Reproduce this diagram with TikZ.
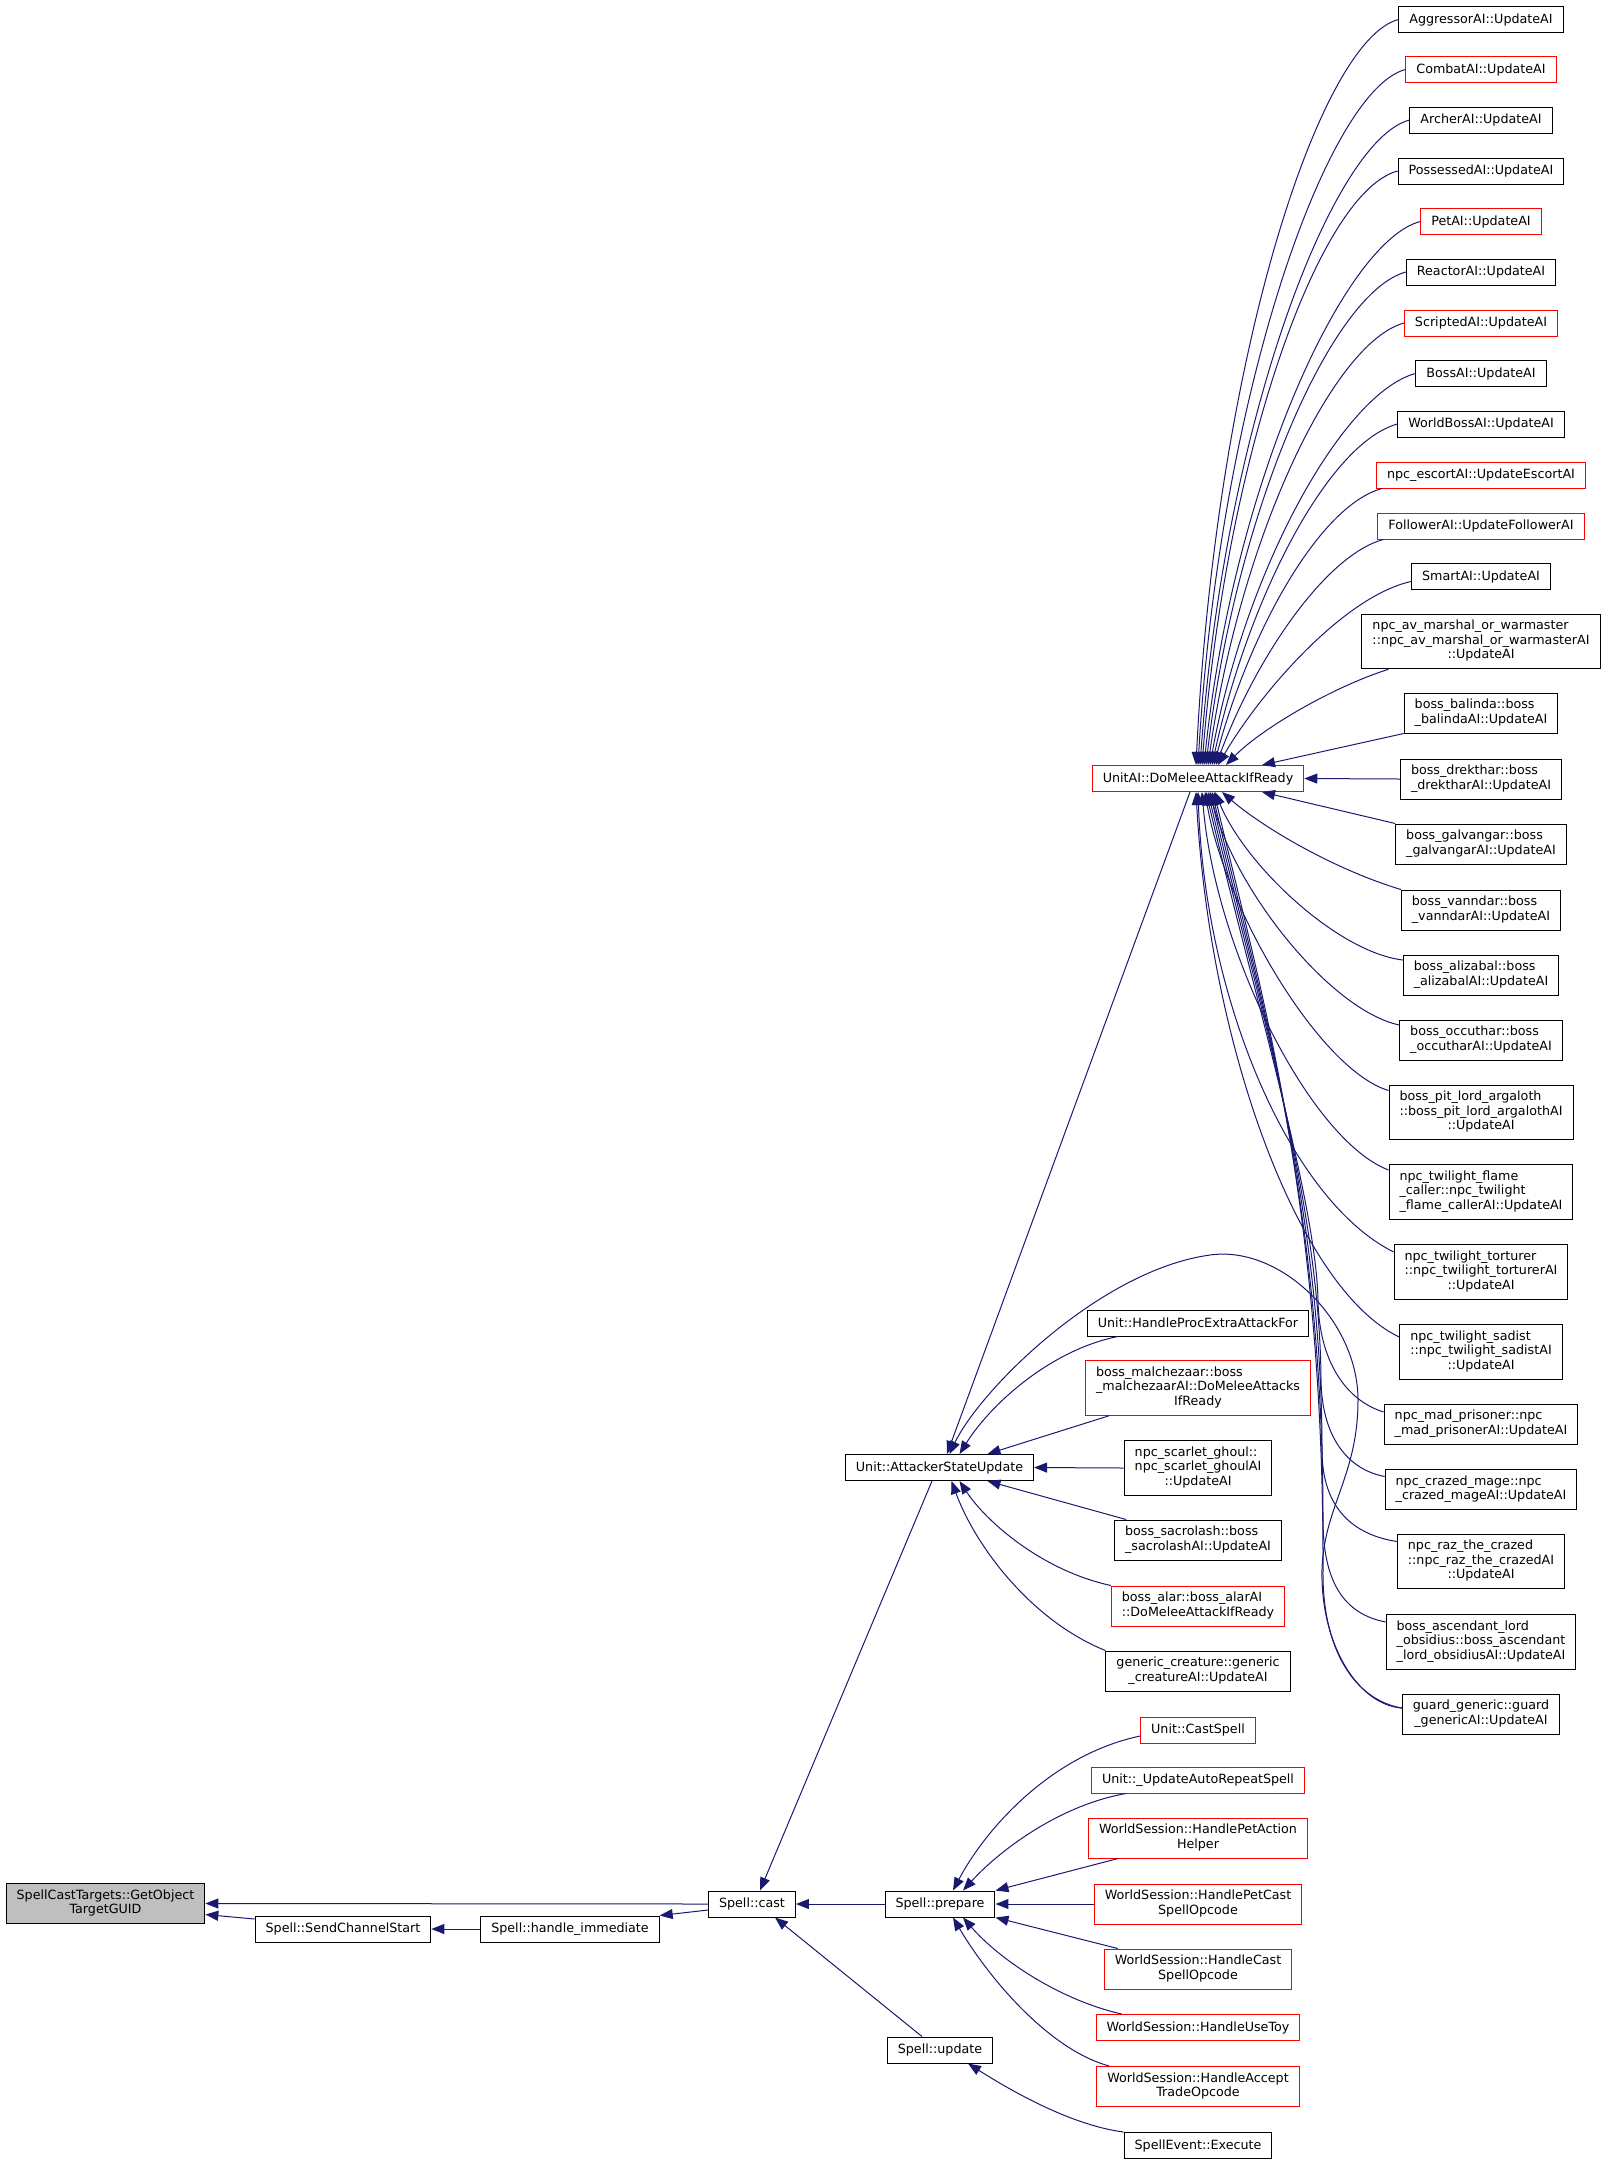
\documentclass[tikz,border=0pt]{standalone}
\usepackage{fontspec}
\setmainfont{DejaVu Sans}
\usepackage{xcolor}
\usepackage{tikz}
\usetikzlibrary{arrows.meta}

\definecolor{edgeblue}{HTML}{191970}
\definecolor{rootgray}{HTML}{BFBFBF}

\newcommand{\twolbl}[2]{\begin{tabular}{@{}l@{}}#1\\\multicolumn{1}{@{}c@{}}{#2}\end{tabular}}
\newcommand{\threelbl}[3]{\begin{tabular}{@{}l@{}}#1\\#2\\\multicolumn{1}{@{}c@{}}{#3}\end{tabular}}

\begin{document}
\begin{tikzpicture}[
  x=1pt, y=-1pt,
  box/.style={draw=black, line width=1pt, fill=white, inner xsep=10.5pt, inner ysep=5.5pt, minimum height=26pt, font=\fontsize{12.7}{14.5}\selectfont},
  redbox/.style={box, draw=red},
  rootbox/.style={box, fill=rootgray},
  callarrow/.style={draw=edgeblue, line width=1pt, {Triangle[length=13pt,width=10pt]}-}
]
\useasboundingbox (0,0) rectangle (1607,2164);

\node[rootbox] (gettarget) at (105.5,1903.5) {\twolbl{SpellCastTargets::GetObject}{TargetGUID}};
\node[box] (sendchannel) at (343,1929) {Spell::SendChannelStart};
\node[box] (handleimm) at (570,1929) {Spell::handle\_immediate};
\node[box] (spellcast) at (752,1904) {Spell::cast};
\node[box] (prepare) at (940,1904) {Spell::prepare};
\node[box] (spellupdate) at (940,2050) {Spell::update};
\node[box] (attacker) at (939.5,1467.5) {Unit::AttackerStateUpdate};

\node[redbox] (melee) at (1198,778.5) {UnitAI::DoMeleeAttackIfReady};
\node[box] (extraattack) at (1198,1323) {Unit::HandleProcExtraAttackFor};
\node[redbox] (malchezaar) at (1198,1388) {\threelbl{boss\_malchezaar::boss}{\_malchezaarAI::DoMeleeAttacks}{IfReady}};
\node[box] (ghoul) at (1198,1468) {\threelbl{npc\_scarlet\_ghoul::}{npc\_scarlet\_ghoulAI}{::UpdateAI}};
\node[box] (sacrolash) at (1198,1540) {\twolbl{boss\_sacrolash::boss}{\_sacrolashAI::UpdateAI}};
\node[redbox] (alar) at (1198,1606) {\twolbl{boss\_alar::boss\_alarAI}{::DoMeleeAttackIfReady}};
\node[box] (genericcr) at (1198,1671) {\twolbl{generic\_creature::generic}{\_creatureAI::UpdateAI}};
\node[redbox] (castspell) at (1198,1730) {Unit::CastSpell};
\node[redbox] (autorepeat) at (1198,1780) {Unit::\_UpdateAutoRepeatSpell};
\node[redbox] (petaction) at (1198,1838) {\twolbl{WorldSession::HandlePetAction}{Helper}};
\node[redbox] (petcast) at (1198,1904) {\twolbl{WorldSession::HandlePetCast}{SpellOpcode}};
\node[redbox] (castopcode) at (1198,1969) {\twolbl{WorldSession::HandleCast}{SpellOpcode}};
\node[redbox] (usetoy) at (1198,2027.5) {WorldSession::HandleUseToy};
\node[redbox] (accepttrade) at (1198,2086.5) {\twolbl{WorldSession::HandleAccept}{TradeOpcode}};
\node[box] (spellevent) at (1198,2145.5) {SpellEvent::Execute};

\node[box] (aggressor) at (1481,19.5) {AggressorAI::UpdateAI};
\node[redbox] (combat) at (1481,69.5) {CombatAI::UpdateAI};
\node[box] (archer) at (1481,120) {ArcherAI::UpdateAI};
\node[box] (possessed) at (1481,171) {PossessedAI::UpdateAI};
\node[redbox] (petai) at (1481,221.5) {PetAI::UpdateAI};
\node[box] (reactor) at (1481,272) {ReactorAI::UpdateAI};
\node[redbox] (scripted) at (1481,323) {ScriptedAI::UpdateAI};
\node[box] (bossai) at (1481,373.5) {BossAI::UpdateAI};
\node[box] (worldboss) at (1481,424) {WorldBossAI::UpdateAI};
\node[redbox] (escort) at (1481,475) {npc\_escortAI::UpdateEscortAI};
\node[redbox] (follower) at (1481,526) {FollowerAI::UpdateFollowerAI};
\node[box] (smart) at (1481,576.5) {SmartAI::UpdateAI};
\node[box] (avmarshal) at (1481,641.5) {\threelbl{npc\_av\_marshal\_or\_warmaster}{::npc\_av\_marshal\_or\_warmasterAI}{::UpdateAI}};
\node[box] (balinda) at (1481,713) {\twolbl{boss\_balinda::boss}{\_balindaAI::UpdateAI}};
\node[box] (drekthar) at (1481,779) {\twolbl{boss\_drekthar::boss}{\_drektharAI::UpdateAI}};
\node[box] (galvangar) at (1481,844) {\twolbl{boss\_galvangar::boss}{\_galvangarAI::UpdateAI}};
\node[box] (vanndar) at (1481,910) {\twolbl{boss\_vanndar::boss}{\_vanndarAI::UpdateAI}};
\node[box] (alizabal) at (1481,975) {\twolbl{boss\_alizabal::boss}{\_alizabalAI::UpdateAI}};
\node[box] (occuthar) at (1481,1040) {\twolbl{boss\_occuthar::boss}{\_occutharAI::UpdateAI}};
\node[box] (pitlord) at (1481,1112.5) {\threelbl{boss\_pit\_lord\_argaloth}{::boss\_pit\_lord\_argalothAI}{::UpdateAI}};
\node[box] (flamecaller) at (1481,1192) {\threelbl{npc\_twilight\_flame}{\_caller::npc\_twilight}{\_flame\_callerAI::UpdateAI}};
\node[box] (torturer) at (1481,1272) {\threelbl{npc\_twilight\_torturer}{::npc\_twilight\_torturerAI}{::UpdateAI}};
\node[box] (sadist) at (1481,1352) {\threelbl{npc\_twilight\_sadist}{::npc\_twilight\_sadistAI}{::UpdateAI}};
\node[box] (madprisoner) at (1481,1424) {\twolbl{npc\_mad\_prisoner::npc}{\_mad\_prisonerAI::UpdateAI}};
\node[box] (crazedmage) at (1481,1489.5) {\twolbl{npc\_crazed\_mage::npc}{\_crazed\_mageAI::UpdateAI}};
\node[box] (razcrazed) at (1481,1561.5) {\threelbl{npc\_raz\_the\_crazed}{::npc\_raz\_the\_crazedAI}{::UpdateAI}};
\node[box] (obsidius) at (1481,1642) {\threelbl{boss\_ascendant\_lord}{\_obsidius::boss\_ascendant}{\_lord\_obsidiusAI::UpdateAI}};
\node[box] (guard) at (1481,1714) {\twolbl{guard\_generic::guard}{\_genericAI::UpdateAI}};

\draw[callarrow] (gettarget.east) -- (spellcast.west);
\draw[callarrow] ([yshift=-11pt]gettarget.east) -- ([yshift=10pt]sendchannel.west);
\draw[callarrow] (sendchannel.east) -- (handleimm.west);
\draw[callarrow] (handleimm.north east) -- ([yshift=-6pt]spellcast.west);
\draw[callarrow] (spellcast.east) -- (prepare.west);
\draw[callarrow] ([xshift=23pt]spellcast.south) -- ([xshift=-18pt]spellupdate.north);
\draw[callarrow] ([xshift=8pt]spellcast.north) -- ([xshift=-7.5pt]attacker.south);
\draw[callarrow] ([xshift=28pt]spellupdate.south) .. controls (1010,2090) and (1070,2125) .. (spellevent.north west);
\draw[callarrow] ([xshift=7.5pt]attacker.north) -- ([xshift=-8pt]melee.south);

\draw[callarrow] ([xshift=13pt]prepare.north) .. controls (985,1830) and (1050,1755) .. ([yshift=-6pt]castspell.west);
\draw[callarrow] ([xshift=23pt]prepare.north) .. controls (1000,1850) and (1060,1805) .. ([xshift=35pt]autorepeat.south west);
\draw[callarrow] (prepare.north east) -- ([xshift=30pt]petaction.south west);
\draw[callarrow] (prepare.east) -- (petcast.west);
\draw[callarrow] (prepare.south east) -- ([xshift=14pt]castopcode.north west);
\draw[callarrow] ([xshift=23pt]prepare.south) .. controls (1000,1960) and (1060,2000) .. ([xshift=26pt]usetoy.north west);
\draw[callarrow] ([xshift=13pt]prepare.south) .. controls (990,1980) and (1050,2050) .. ([xshift=13pt]accepttrade.north west);

\draw[callarrow] ([xshift=20pt]attacker.north) .. controls (990,1405) and (1050,1350) .. ([xshift=31pt]extraattack.south west);
\draw[callarrow] ([xshift=10pt]attacker.north) .. controls (980,1390) and (1100,1270) .. (1210,1255) .. controls (1280,1245) and (1358,1320) .. (1358,1400) .. controls (1358,1480) and (1320,1510) .. (1322,1580) .. controls (1324,1650) and (1360,1705) .. ([yshift=6pt]guard.west);
\draw[callarrow] ([xshift=48pt]attacker.north) -- ([xshift=24pt]malchezaar.south west);
\draw[callarrow] (attacker.east) -- (ghoul.west);
\draw[callarrow] ([xshift=48pt]attacker.south) -- ([xshift=12pt]sacrolash.north west);
\draw[callarrow] ([xshift=20pt]attacker.south) .. controls (985,1520) and (1040,1570) .. (alar.north west);
\draw[callarrow] ([xshift=12pt]attacker.south) .. controls (975,1545) and (1030,1620) .. (genericcr.north west);

\draw[callarrow] ([xshift=-2pt]melee.north) .. controls (1216,355) and (1320,40) .. (aggressor.west);
\draw[callarrow] (melee.north) .. controls (1220,390) and (1328,90) .. (combat.west);
\draw[callarrow] ([xshift=2pt]melee.north) .. controls (1225,420) and (1333,140) .. (archer.west);
\draw[callarrow] ([xshift=4pt]melee.north) .. controls (1227,450) and (1320,191) .. (possessed.west);
\draw[callarrow] ([xshift=6pt]melee.north) .. controls (1234,480) and (1345,241) .. (petai.west);
\draw[callarrow] ([xshift=8pt]melee.north) .. controls (1236,510) and (1332,292) .. (reactor.west);
\draw[callarrow] ([xshift=10pt]melee.north) .. controls (1240,540) and (1332,343) .. (scripted.west);
\draw[callarrow] ([xshift=12pt]melee.north) .. controls (1245,570) and (1343,393) .. (bossai.west);
\draw[callarrow] ([xshift=14pt]melee.north) .. controls (1248,600) and (1327,444) .. (worldboss.west);
\draw[callarrow] ([xshift=16pt]melee.north) .. controls (1250,630) and (1320,505) .. ([xshift=6pt]escort.south west);
\draw[callarrow] ([xshift=18pt]melee.north) .. controls (1255,660) and (1325,555) .. ([xshift=6pt]follower.south west);
\draw[callarrow] ([xshift=20pt]melee.north) .. controls (1262,690) and (1345,596) .. ([yshift=-5pt]smart.west);
\draw[callarrow] ([xshift=28pt]melee.north) .. controls (1260,730) and (1330,688) .. ([xshift=27pt]avmarshal.south west);
\draw[callarrow] ([xshift=64pt]melee.north) -- (balinda.south west);
\draw[callarrow] (melee.east) -- (drekthar.west);
\draw[callarrow] ([xshift=64pt]melee.south) -- (galvangar.north west);
\draw[callarrow] ([xshift=24pt]melee.south) .. controls (1260,825) and (1330,868) .. (vanndar.north west);
\draw[callarrow] ([xshift=17pt]melee.south) .. controls (1245,865) and (1337,952) .. ([yshift=15pt]alizabal.west);
\draw[callarrow] ([xshift=12pt]melee.south) .. controls (1235,890) and (1330,1010) .. ([yshift=15pt]occuthar.west);
\draw[callarrow] ([xshift=7pt]melee.south) .. controls (1225,910) and (1320,1070) .. ([yshift=22pt]pitlord.west);
\draw[callarrow] ([xshift=4pt]melee.south) .. controls (1215,950) and (1310,1140) .. ([yshift=22pt]flamecaller.west);
\draw[callarrow] (melee.south) .. controls (1205,1000) and (1290,1200) .. ([yshift=20pt]torturer.west);
\draw[callarrow] ([xshift=-2pt]melee.south) .. controls (1210,1050) and (1300,1290) .. ([yshift=15pt]sadist.west);
\draw[callarrow] ([xshift=8pt]melee.south) .. controls (1250,980) and (1316,1200) .. (1318,1300) .. controls (1319,1360) and (1345,1400) .. ([yshift=12pt]madprisoner.west);
\draw[callarrow] ([xshift=10pt]melee.south) .. controls (1252,980) and (1320,1200) .. (1321,1380) .. controls (1322,1440) and (1350,1470) .. ([yshift=13pt]crazedmage.west);
\draw[callarrow] ([xshift=12pt]melee.south) .. controls (1254,980) and (1322,1200) .. (1322,1450) .. controls (1322,1510) and (1355,1535) .. ([yshift=20pt]razcrazed.west);
\draw[callarrow] ([xshift=14pt]melee.south) .. controls (1256,980) and (1323,1200) .. (1323,1520) .. controls (1323,1590) and (1350,1615) .. ([yshift=20pt]obsidius.west);
\draw[callarrow] ([xshift=16pt]melee.south) .. controls (1258,980) and (1324,1200) .. (1323,1570) .. controls (1322,1650) and (1355,1700) .. ([yshift=6pt]guard.west);
\end{tikzpicture}
\end{document}
